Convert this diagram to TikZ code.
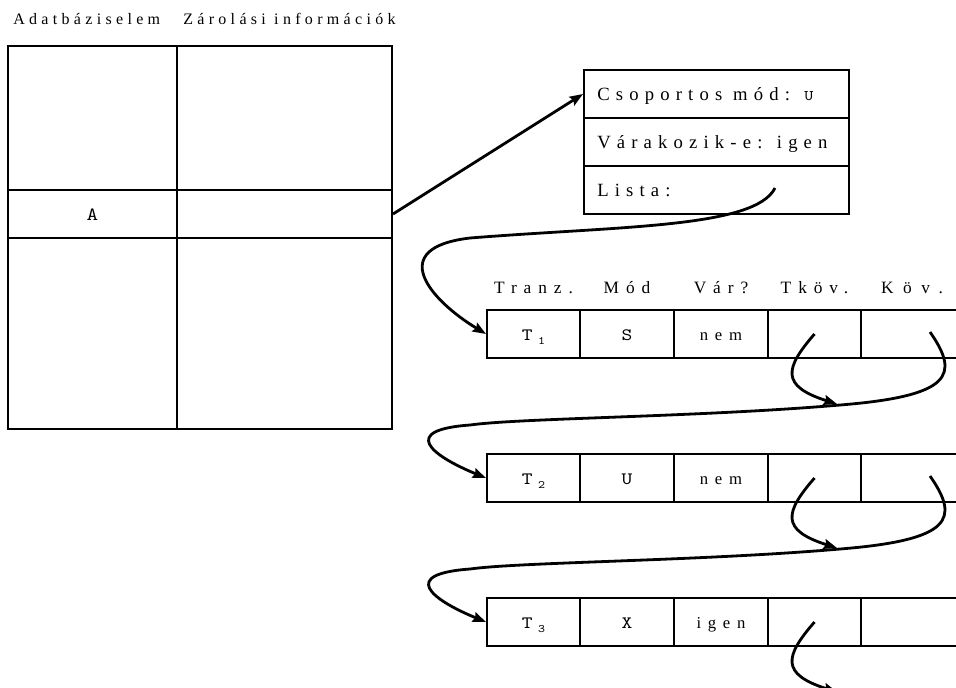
\documentclass[tikz,border=0pt]{standalone}
\usepackage{fontspec}
\setmainfont{Liberation Serif}
\setmonofont{lmmono10-regular.otf}[FakeStretch=1.18]
\newfontfamily\spfonta[LetterSpace=27]{Liberation Serif}
\newfontfamily\spfontb[LetterSpace=33]{Liberation Serif}
\newfontfamily\spfontc[LetterSpace=40]{Liberation Serif}
\newfontfamily\spfontd[LetterSpace=55]{Liberation Serif}
\usetikzlibrary{arrows.meta}
\begin{document}
\begin{tikzpicture}[x=0.75pt,y=-0.75pt,
  cell/.style={draw, line width=1.5pt, anchor=north west, inner sep=0pt,
    text height=9pt, text depth=0pt},
  conn/.style={line width=2.1pt, -{Stealth[length=10pt,width=7.5pt,inset=1.5pt]}},
  tophdr/.style={anchor=base west, inner sep=0pt, font=\fontsize{12}{14}\spfonta},
  infotxt/.style={anchor=base west, inner sep=0pt, font=\fontsize{14}{16}\spfontb},
  colhdr/.style={anchor=base, inner sep=0pt, font=\fontsize{13}{15}\spfontc},
  celltxt/.style={font=\fontsize{12.5}{14}\spfontc},
  monotxt/.style={font=\fontsize{13}{14}\ttfamily}
]
\useasboundingbox (0,0) rectangle (956,687);

% headers
\node[tophdr] (h1) at (13,24) {Adatbáziselem};
\node[tophdr] (h2) at (183,24) {Zárolási információk};

% left table
\node[cell, minimum width=126.75pt, minimum height=108pt] (a1) at (7,45) {};
\node[cell, minimum width=161.25pt, minimum height=108pt] (b1) at (176,45) {};
\node[cell, minimum width=126.75pt, minimum height=36pt, font=\fontsize{14}{14}\ttfamily] (a2) at (7,189) {A};
\node[cell, minimum width=161.25pt, minimum height=36pt] (b2) at (176,189) {};
\node[cell, minimum width=126.75pt, minimum height=143.25pt] (a3) at (7,237) {};
\node[cell, minimum width=161.25pt, minimum height=143.25pt] (b3) at (176,237) {};

% info box
\node[cell, minimum width=198.75pt, minimum height=36pt] (i1) at (583,69) {};
\node[cell, minimum width=198.75pt, minimum height=36pt] (i2) at (583,117) {};
\node[cell, minimum width=198.75pt, minimum height=36pt] (i3) at (583,165) {};
\node[infotxt] (t1) at (597,100) {Csoportos mód: {\fontsize{11}{12}\ttfamily U}};
\node[infotxt] (t2) at (597,148) {Várakozik-e: igen};
\node[infotxt] (t3) at (597,196) {Lista:};

% list rows
\foreach \rw/\y/\tn/\md/\vr in {1/309/1/S/nem, 2/453/2/U/nem, 3/597/3/X/igen} {
  \node[cell, monotxt, minimum width=69.75pt, minimum height=36pt] (r\rw c1) at (486,\y)
    {T\hspace{4pt}\raisebox{-3pt}{\fontsize{8.5}{8.5}\selectfont\ttfamily \tn}};
  \node[cell, monotxt, minimum width=70.5pt, minimum height=36pt] (r\rw c2) at (579,\y) {\md};
  \node[cell, celltxt, minimum width=70.5pt, minimum height=36pt] (r\rw c3) at (673,\y) {\vr};
  \node[cell, minimum width=69.75pt, minimum height=36pt] (r\rw c4) at (767,\y) {};
  \node[cell, minimum width=75pt, minimum height=36pt] (r\rw c5) at (860,\y) {};
}

% column headers, centred over the first row's cells
\node[colhdr] (c1) at (r1c1.center |- 0,293) {Tranz.};
\node[colhdr] (c2) at (r1c2.center |- 0,293) {Mód};
\node[colhdr] (c3) at (r1c3.center |- 0,293) {Vár?};
\node[colhdr] (c4) at (r1c4.center |- 0,293) {Tköv.};
\node[colhdr, font=\fontsize{13}{15}\spfontd] (c5) at (912,293) {Köv.};

% pointer from element to lock info
\draw[conn] (b2.east) -- (i1.west);

% list head
\coordinate (ls) at (775,188);
\draw[conn] (ls) .. controls (755,228) and (620,226) .. (470,238)
  .. controls (385,248) and (430,300) .. (r1c1.west);

% next pointers (Köv.)
\foreach \rw/\nx/\d in {1/2/0, 2/3/144} {
  \coordinate (k\rw) at (930,{332+\d});
  \draw[conn] (k\rw) .. controls (960,{375+\d}) and (952,{396+\d}) .. (840,{405+\d})
    .. controls (700,{417+\d}) and (520,{418+\d}) .. (470,{425+\d})
    .. controls (400,{430+\d}) and (430,{455+\d}) .. (r\nx c1.west);
}

% transaction-next pointers (Tköv.)
\foreach \rw/\d in {1/0, 2/144, 3/288} {
  \coordinate (tk\rw) at (837,{404+\d});
  \draw[conn] (r\rw c4.center) .. controls (785,{368+\d}) and (780,{386+\d}) .. (tk\rw);
}
\end{tikzpicture}
\end{document}
